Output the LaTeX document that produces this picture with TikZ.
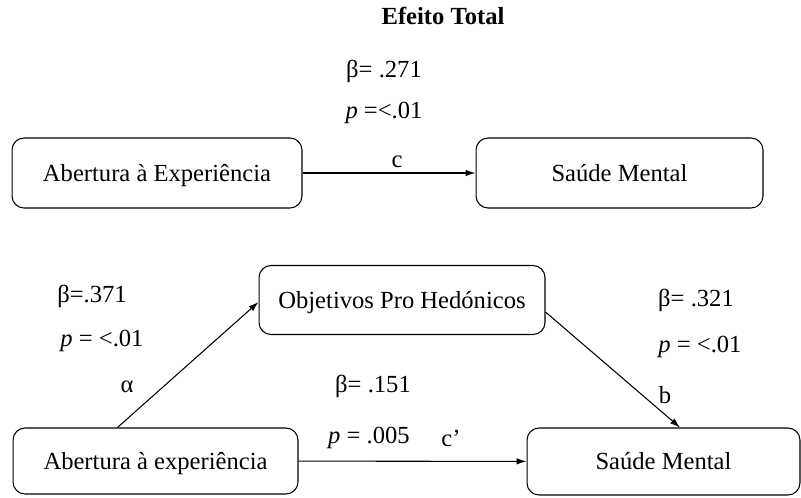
\documentclass[tikz,border=0pt]{standalone}
\usepackage{fontspec}
\setmainfont{Liberation Serif}
\usepackage{tikz}
\usetikzlibrary{positioning}
\usetikzlibrary{arrows.meta}

\begin{document}
\begin{tikzpicture}[x=0.02cm,y=-0.02cm,
        font=\fontsize{14}{16}\selectfont]

        \tikzset{varbox/.style={draw, rounded corners=0.24cm,
                minimum height=1.4cm, line width=0.6pt,
                text height=2ex, text depth=0ex},
            arr/.style={-{Latex[length=2mm,width=1.3mm]}, line width=0.6pt}}

        \useasboundingbox (0,0) rectangle (801,497);

        % Efeito total
        \begin{scope}
            \node (tit) at (443,16) {\textbf{Efeito Total}};
            \node (tb) at (384,71) {β= .271};
            \node (tp) at (384,113) {\textit{p} =<.01};
            \node[varbox, minimum width=5.8cm] (AE) at (157,173)
            {Abertura à Experiência};
            \node[varbox, minimum width=5.74cm] (SM) at (619.5,173)
            {Saúde Mental};
            \node (c) at (397,162) {c};
        \end{scope}

        % Mediacao
        \begin{scope}
            \node[varbox, minimum width=5.72cm, minimum height=1.38cm] (OH)
            at (402,300) {Objetivos Pro Hedónicos};
            \node[varbox, minimum width=5.7cm, minimum height=1.32cm] (AE2)
            at (155.5,461) {Abertura à experiência};
            \node[varbox, minimum width=5.46cm, minimum height=1.34cm] (SM2)
            at (663.5,461.5) {Saúde Mental};

            \node (ab) at (92,296) {β=.371};
            \node (ap) at (102,341) {\textit{p} = <.01};
            \node (a) at (127,387) {α};
            \node (bb) at (696,300) {β= .321};
            \node (bp) at (700,347) {\textit{p} = <.01};
            \node (b) at (665,395) {b};
            \node (cb) at (373,386) {β= .151};
            \node (cp) at (369,438) {\textit{p} = .005};
            \node (cc) at (451,438) {c’};
        \end{scope}

        \begin{scope}[arr]
            \draw (AE) -- (SM);
            \draw ([xshift=2.1cm]AE2.north west) -- ([yshift=-0.04cm]OH.west);
            \draw ([yshift=-0.24cm]OH.east) -- ([xshift=0.33cm]SM2.north);
            \draw (AE2) -- (SM2);
        \end{scope}

\end{tikzpicture}
\end{document}
